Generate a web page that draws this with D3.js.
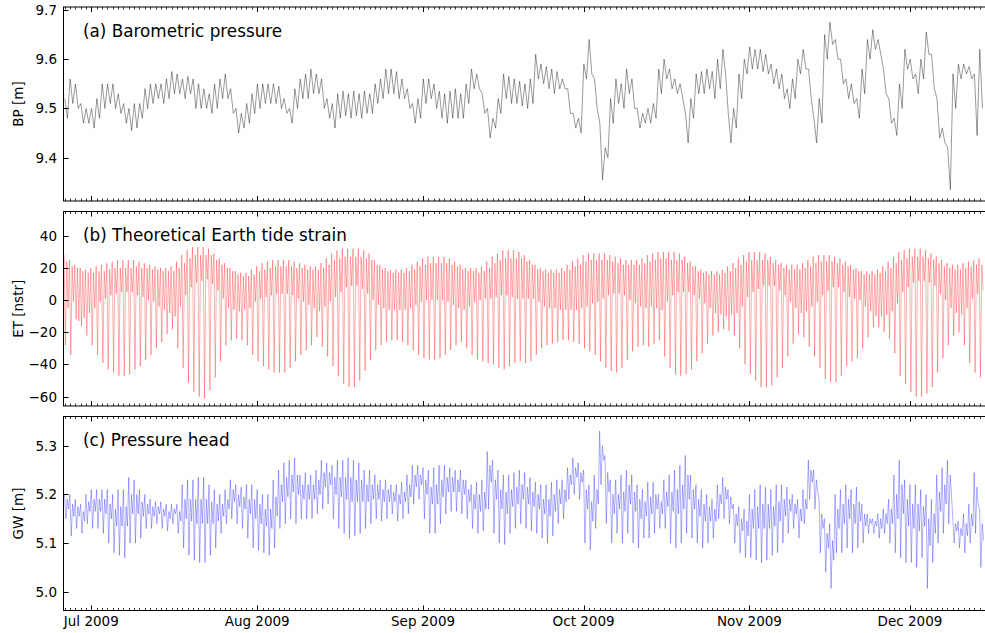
<!DOCTYPE html>
<html><head><meta charset="utf-8">
<script src="https://cdn.jsdelivr.net/npm/d3@7/dist/d3.min.js"></script>
<style>
html,body{margin:0;padding:0;background:#fff;}
svg{display:block;font-family:"DejaVu Sans",sans-serif;}
</style>
</head><body>
<svg id="chart" width="985" height="633"></svg>
<script>
// ---------------- DATA ----------------
// one entry per day, starting 2009-06-25 22:00
const startTime = new Date(2009, 5, 25, 22, 0);
const viewStart = new Date(2009, 5, 25, 19, 20);
const viewEnd = new Date(2009, 11, 15, 0, 25);

const monthLabels = ["Jul 2009", "Aug 2009", "Sep 2009", "Oct 2009", "Nov 2009", "Dec 2009"];
const bpTicks = [9.4, 9.5, 9.6, 9.7];
const etTicks = [-60, -40, -20, 0, 20, 40];
const gwTicks = [5.0, 5.1, 5.2, 5.3];

// (a) Barometric pressure [m] : daily high and low
const bpHigh = [
9.52,9.56,9.55,9.51,9.50,9.50,9.52,9.55,9.55,9.55,
9.53,9.51,9.50,9.51,9.51,9.54,9.55,9.55,9.55,9.56,
9.575,9.57,9.56,9.565,9.56,9.55,9.54,9.53,9.55,9.56,
9.57,9.54,9.50,9.49,9.51,9.53,9.55,9.55,9.55,9.55,
9.545,9.52,9.50,9.54,9.56,9.57,9.58,9.57,9.56,9.52,
9.51,9.53,9.535,9.53,9.535,9.53,9.535,9.53,9.55,9.56,
9.58,9.58,9.575,9.56,9.54,9.51,9.52,9.56,9.56,9.55,
9.535,9.53,9.535,9.54,9.53,9.55,9.58,9.57,9.53,9.50,
9.48,9.52,9.57,9.565,9.56,9.555,9.55,9.56,9.61,9.59,
9.585,9.58,9.575,9.56,9.54,9.49,9.48,9.59,9.64,9.56,
9.47,9.42,9.52,9.56,9.55,9.58,9.56,9.50,9.49,9.50,
9.51,9.58,9.60,9.58,9.56,9.55,9.49,9.52,9.57,9.575,
9.58,9.575,9.60,9.62,9.49,9.50,9.57,9.60,9.625,9.62,
9.62,9.61,9.59,9.58,9.57,9.54,9.56,9.60,9.62,9.58,
9.48,9.52,9.65,9.675,9.64,9.60,9.56,9.55,9.52,9.58,
9.64,9.66,9.64,9.58,9.52,9.48,9.55,9.62,9.60,9.57,
9.60,9.655,9.61,9.52,9.46,9.42,9.57,9.59,9.59,9.585,
9.57,9.62];
const bpLow = [
9.48,9.51,9.50,9.47,9.47,9.46,9.48,9.50,9.51,9.50,
9.49,9.47,9.455,9.46,9.48,9.50,9.51,9.52,9.51,9.52,
9.53,9.53,9.52,9.53,9.50,9.50,9.50,9.49,9.50,9.52,
9.52,9.49,9.45,9.46,9.47,9.49,9.50,9.51,9.51,9.51,
9.50,9.49,9.47,9.50,9.52,9.52,9.53,9.53,9.50,9.48,
9.46,9.48,9.485,9.48,9.485,9.48,9.49,9.49,9.51,9.52,
9.53,9.53,9.52,9.52,9.50,9.47,9.48,9.51,9.52,9.50,
9.48,9.47,9.48,9.48,9.48,9.51,9.54,9.54,9.49,9.44,
9.46,9.49,9.52,9.51,9.51,9.505,9.50,9.51,9.56,9.55,
9.54,9.53,9.54,9.54,9.49,9.46,9.45,9.56,9.57,9.50,
9.355,9.40,9.47,9.51,9.50,9.53,9.50,9.46,9.47,9.47,
9.48,9.53,9.56,9.54,9.53,9.52,9.43,9.48,9.53,9.53,
9.54,9.52,9.54,9.57,9.43,9.46,9.52,9.57,9.58,9.58,
9.575,9.57,9.55,9.54,9.52,9.50,9.52,9.57,9.58,9.52,
9.43,9.47,9.60,9.63,9.60,9.55,9.52,9.51,9.48,9.53,
9.60,9.62,9.61,9.53,9.47,9.445,9.50,9.58,9.56,9.53,
9.56,9.61,9.54,9.44,9.43,9.335,9.50,9.56,9.57,9.56,
9.445,9.50];

// (b) Theoretical Earth tide strain [nstr] : major high, major low, minor high, minor low
const etHigh1 = [
28,25,22,20,19,20,21,22,23,24,25,25,25,25,24,23,22,21,20,20,
21,24,28,31,33,33,33,32,29,26,23,20,18,17,17,19,21,23,24,25,
25,25,25,24,23,22,21,21,23,26,29,31,32,32,32,32,31,29,25,22,
20,19,19,19,20,22,24,26,27,27,27,27,26,24,22,20,20,20,21,24,
27,29,31,31,31,30,28,25,22,20,19,19,19,20,22,24,26,28,29,29,
29,29,28,27,26,25,25,25,26,28,29,30,30,30,30,29,27,24,21,19,
18,18,18,19,21,23,26,28,30,30,30,29,27,25,23,22,22,22,23,25,
27,28,28,28,27,26,24,22,20,18,18,18,19,21,24,27,30,31,32,32,
32,31,29,27,25,23,22,22,23,24,25,26];
const etLow1 = [
-28,-34,-12,-16,-22,-28,-34,-39,-43,-45,-47,-47,-46,-43,-41,-37,-34,-30,-26,-21,
-18,-30,-42,-51,-57,-60,-61,-56,-48,-38,-28,-25,-24,-25,-28,-34,-38,-41,-43,-45,
-45,-45,-42,-38,-34,-31,-28,-23,-29,-35,-41,-47,-52,-54,-54,-50,-44,-37,-31,-28,
-26,-25,-25,-26,-28,-31,-34,-36,-37,-37,-36,-34,-31,-28,-26,-30,-34,-37,-38,-39,
-40,-42,-43,-41,-39,-38,-39,-38,-34,-30,-28,-27,-26,-25,-25,-26,-27,-30,-32,-34,
-38,-42,-44,-45,-42,-37,-32,-29,-28,-29,-27,-25,-35,-42,-46,-47,-46,-43,-38,-33,
-27,-22,-20,-18,-19,-22,-30,-40,-46,-50,-54,-54,-53,-48,-42,-35,-27,-21,-23,-29,
-35,-42,-49,-51,-51,-47,-41,-38,-36,-30,-23,-17,-17,-20,-24,-33,-47,-52,-57,-60,
-60,-58,-54,-45,-36,-28,-22,-20,-28,-39,-45,-48];
const etHigh2 = [
24,21,20,18,17,17,18,18,19,20,20,20,20,21,20,20,19,19,18,18,
18,20,23,26,28,28,28,28,25,22,20,18,16,15,15,16,18,19,20,21,
21,21,21,20,20,19,19,19,20,22,25,26,27,27,27,27,26,25,22,19,
18,17,17,17,18,19,21,22,23,23,23,23,22,21,19,18,18,17,18,20,
23,25,26,26,26,26,24,22,19,18,17,17,17,18,19,21,22,24,25,25,
25,25,24,23,22,22,22,22,23,24,25,26,26,25,25,25,23,21,18,17,
16,16,16,17,18,20,22,24,25,25,25,25,23,22,20,19,19,19,20,21,
23,24,24,24,23,22,21,19,18,16,16,16,17,18,20,23,25,26,27,27,
27,26,25,23,21,20,19,19,20,21,22,22];
const etLow2 = [
-5,-1,-13,-11,-8,-5,-1,1,3,4,5,5,5,3,2,0,-1,-4,-6,-8,
-10,-4,3,8,11,12,13,10,6,1,-5,-6,-7,-6,-5,-1,1,2,3,4,
4,4,3,1,-1,-3,-5,-7,-4,-1,2,5,8,9,9,7,4,0,-3,-5,
-6,-6,-6,-6,-5,-3,-1,0,0,0,0,-1,-3,-5,-6,-4,-1,0,1,1,
2,3,3,2,1,1,1,1,-1,-4,-5,-5,-6,-6,-6,-6,-5,-4,-2,-1,
1,3,4,4,3,0,-2,-4,-5,-4,-5,-6,-1,3,5,5,5,3,1,-2,
-5,-8,-9,-10,-9,-8,-4,2,5,7,9,9,9,6,3,-1,-5,-8,-7,-4,
-1,3,6,8,8,5,2,1,0,-4,-7,-10,-10,-9,-7,-2,5,8,11,12,
12,11,9,4,0,-5,-8,-9,-5,1,4,6];

// (c) Pressure head [m] : major high, major low, minor high, minor low
const gwHigh1 = [
5.20,5.20,5.19,5.18,5.20,5.21,5.21,5.21,5.21,5.20,
5.21,5.21,5.235,5.23,5.21,5.20,5.19,5.185,5.185,5.18,
5.18,5.18,5.22,5.23,5.23,5.235,5.235,5.22,5.21,5.20,
5.21,5.23,5.22,5.215,5.22,5.22,5.21,5.20,5.20,5.23,
5.25,5.265,5.27,5.275,5.24,5.245,5.24,5.25,5.27,5.265,
5.26,5.27,5.27,5.275,5.27,5.265,5.25,5.25,5.24,5.23,
5.23,5.22,5.22,5.225,5.24,5.26,5.26,5.255,5.25,5.255,
5.26,5.26,5.255,5.25,5.25,5.23,5.22,5.225,5.23,5.288,
5.27,5.25,5.24,5.24,5.245,5.25,5.245,5.235,5.225,5.22,
5.22,5.225,5.23,5.23,5.255,5.275,5.265,5.25,5.22,5.24,
5.33,5.28,5.23,5.23,5.24,5.25,5.24,5.22,5.21,5.225,
5.225,5.20,5.23,5.24,5.25,5.26,5.28,5.24,5.22,5.21,
5.20,5.19,5.22,5.235,5.21,5.18,5.175,5.17,5.20,5.21,
5.22,5.215,5.21,5.22,5.22,5.215,5.20,5.19,5.21,5.27,
5.25,5.19,5.15,5.14,5.20,5.21,5.22,5.21,5.215,5.18,
5.16,5.15,5.16,5.17,5.19,5.24,5.27,5.23,5.22,5.22,
5.21,5.20,5.19,5.24,5.255,5.27,5.15,5.145,5.16,5.18,
5.245,5.17];
const gwLow1 = [
5.15,5.115,5.13,5.12,5.14,5.13,5.13,5.12,5.10,5.08,
5.075,5.07,5.10,5.10,5.11,5.13,5.13,5.14,5.13,5.125,
5.14,5.12,5.09,5.075,5.065,5.06,5.06,5.075,5.09,5.12,
5.14,5.15,5.14,5.13,5.11,5.09,5.085,5.08,5.075,5.09,
5.13,5.14,5.15,5.14,5.15,5.15,5.15,5.16,5.17,5.18,
5.15,5.13,5.12,5.11,5.115,5.12,5.13,5.14,5.15,5.145,
5.15,5.16,5.145,5.15,5.16,5.18,5.19,5.15,5.12,5.12,
5.14,5.16,5.165,5.165,5.16,5.15,5.13,5.12,5.125,5.17,
5.12,5.10,5.097,5.12,5.13,5.14,5.13,5.125,5.12,5.11,
5.10,5.115,5.14,5.15,5.19,5.20,5.19,5.10,5.086,5.13,
5.22,5.14,5.10,5.12,5.10,5.12,5.10,5.09,5.11,5.11,
5.12,5.13,5.13,5.10,5.09,5.10,5.12,5.11,5.10,5.09,
5.10,5.11,5.15,5.15,5.14,5.10,5.08,5.07,5.07,5.065,
5.06,5.065,5.075,5.08,5.10,5.12,5.13,5.11,5.14,5.19,
5.17,5.08,5.04,5.007,5.08,5.08,5.09,5.08,5.09,5.10,
5.12,5.12,5.11,5.12,5.10,5.08,5.07,5.06,5.06,5.05,
5.07,5.007,5.06,5.10,5.12,5.14,5.10,5.09,5.08,5.10,
5.12,5.05];
const gwHigh2 = [
5.19,5.18,5.175,5.165,5.185,5.19,5.19,5.19,5.18,5.17,
5.175,5.175,5.20,5.20,5.185,5.18,5.175,5.175,5.17,5.165,
5.17,5.165,5.19,5.19,5.19,5.19,5.19,5.185,5.18,5.18,
5.19,5.21,5.20,5.195,5.19,5.19,5.18,5.17,5.17,5.195,
5.22,5.235,5.24,5.24,5.22,5.22,5.22,5.23,5.245,5.245,
5.235,5.235,5.235,5.235,5.23,5.23,5.22,5.22,5.22,5.21,
5.21,5.205,5.20,5.205,5.22,5.24,5.24,5.23,5.215,5.22,
5.23,5.235,5.235,5.23,5.23,5.21,5.20,5.20,5.205,5.26,
5.23,5.21,5.205,5.21,5.215,5.22,5.215,5.205,5.20,5.19,
5.19,5.20,5.21,5.21,5.24,5.255,5.245,5.21,5.185,5.21,
5.30,5.245,5.20,5.20,5.205,5.22,5.205,5.19,5.185,5.195,
5.20,5.185,5.205,5.205,5.21,5.22,5.24,5.21,5.19,5.18,
5.175,5.17,5.20,5.215,5.195,5.16,5.15,5.145,5.17,5.175,
5.18,5.18,5.175,5.185,5.19,5.19,5.18,5.17,5.19,5.25,
5.23,5.16,5.12,5.105,5.17,5.18,5.19,5.18,5.185,5.16,
5.15,5.145,5.15,5.16,5.17,5.20,5.22,5.19,5.18,5.18,
5.175,5.15,5.16,5.205,5.22,5.24,5.14,5.13,5.14,5.16,
5.215,5.14];
const gwLow2 = [
5.17,5.155,5.155,5.145,5.165,5.165,5.165,5.16,5.15,5.135,
5.135,5.135,5.16,5.16,5.155,5.16,5.155,5.16,5.155,5.15,
5.16,5.145,5.15,5.145,5.14,5.14,5.14,5.14,5.145,5.155,
5.17,5.185,5.175,5.17,5.16,5.15,5.14,5.135,5.13,5.155,
5.185,5.195,5.205,5.20,5.19,5.19,5.19,5.20,5.215,5.22,
5.20,5.195,5.19,5.185,5.185,5.185,5.185,5.19,5.19,5.185,
5.185,5.185,5.18,5.185,5.195,5.215,5.22,5.20,5.18,5.18,
5.195,5.205,5.205,5.205,5.20,5.185,5.17,5.165,5.17,5.225,
5.19,5.17,5.16,5.175,5.18,5.19,5.18,5.175,5.17,5.16,
5.155,5.165,5.18,5.185,5.22,5.235,5.225,5.17,5.145,5.18,
5.27,5.205,5.16,5.17,5.165,5.18,5.165,5.15,5.155,5.16,
5.17,5.16,5.175,5.165,5.16,5.17,5.19,5.17,5.155,5.145,
5.145,5.145,5.18,5.19,5.17,5.135,5.125,5.115,5.13,5.13,
5.13,5.13,5.135,5.145,5.155,5.165,5.16,5.145,5.17,5.225,
5.205,5.13,5.09,5.065,5.13,5.14,5.15,5.14,5.145,5.135,
5.14,5.135,5.13,5.14,5.14,5.15,5.16,5.135,5.13,5.125,
5.135,5.095,5.12,5.165,5.18,5.20,5.125,5.115,5.115,5.135,
5.18,5.105];

// ---------------- DRAWING ----------------
function buildSeries(arrays, hourOffsets) {
  const out = [];
  const n = arrays[0].length;
  for (let i = 0; i < n; i++) {
    const day = d3.timeDay.offset(startTime, i);
    arrays.forEach((arr, k) => {
      out.push({t: d3.timeMinute.offset(day, hourOffsets[k] * 60), v: arr[i]});
    });
  }
  return out;
}

const bpSeries = buildSeries([bpHigh, bpLow], [3, 15]);
const etSeries = buildSeries([etHigh1, etLow1, etHigh2, etLow2], [0, 6, 12, 18]);
const gwSeries = buildSeries([gwHigh1, gwLow1, gwHigh2, gwLow2], [2, 8, 14, 20]);

const svg = d3.select("#chart");
const left = 63.5, right = 986;
const x = d3.scaleTime().domain([viewStart, viewEnd]).range([left, 985]);

const panels = [
  {top: 7, bottom: 201, domain: [9.312, 9.706], ticks: bpTicks, fmt: d3.format(".1f"),
   data: bpSeries, color: "#000000", width: 0.5, opacity: 0.8, label: "BP [m]", title: "(a) Barometric pressure"},
  {top: 211.5, bottom: 406, domain: [-65.8, 55.1], ticks: etTicks, fmt: d3.format("d"),
   data: etSeries, color: "#ff0000", width: 0.45, opacity: 0.7, label: "ET [nstr]", title: "(b) Theoretical Earth tide strain"},
  {top: 416.5, bottom: 610.5, domain: [4.9616, 5.360], ticks: gwTicks, fmt: d3.format(".1f"),
   data: gwSeries, color: "#0000ff", width: 0.45, opacity: 0.7, label: "GW [m]", title: "(c) Pressure head"}
];

const months = d3.timeMonth.range(d3.timeMonth.ceil(viewStart), viewEnd);
const days = d3.timeDay.range(d3.timeDay.ceil(viewStart), viewEnd);
const tickFont = 13.5;

panels.forEach((p, pi) => {
  const y = d3.scaleLinear().domain(p.domain).range([p.bottom, p.top]);
  const g = svg.append("g");
  const clipId = "clip" + pi;
  svg.append("clipPath").attr("id", clipId).append("rect")
    .attr("x", left).attr("y", p.top).attr("width", right - left).attr("height", p.bottom - p.top);

  g.append("path").datum(p.data)
    .attr("clip-path", `url(#${clipId})`)
    .attr("fill", "none").attr("stroke", p.color).attr("stroke-width", p.width)
    .attr("stroke-opacity", p.opacity)
    .attr("stroke-linejoin", "round")
    .attr("d", d3.line().x(d => x(d.t)).y(d => y(d.v)));

  // frame
  g.append("rect").attr("x", left).attr("y", p.top).attr("width", right - left).attr("height", p.bottom - p.top)
    .attr("fill", "none").attr("stroke", "#000").attr("stroke-width", 1);

  // minor (daily) ticks
  const isMonth = d => d.getDate() === 1;
  days.filter(d => !isMonth(d)).forEach(d => {
    const xx = Math.round(x(d)) + 0.5;
    g.append("line").attr("x1", xx).attr("x2", xx).attr("y1", p.top).attr("y2", p.top + 2.5)
      .attr("stroke", "#000").attr("stroke-width", 0.8);
    g.append("line").attr("x1", xx).attr("x2", xx).attr("y1", p.bottom).attr("y2", p.bottom - 2.5)
      .attr("stroke", "#000").attr("stroke-width", 0.8);
  });
  // major (monthly) ticks
  months.forEach(d => {
    const xx = Math.round(x(d)) + 0.5;
    g.append("line").attr("x1", xx).attr("x2", xx).attr("y1", p.top).attr("y2", p.top + 5)
      .attr("stroke", "#000").attr("stroke-width", 1);
    g.append("line").attr("x1", xx).attr("x2", xx).attr("y1", p.bottom).attr("y2", p.bottom - 5)
      .attr("stroke", "#000").attr("stroke-width", 1);
  });

  // y ticks
  p.ticks.forEach(v => {
    const yy = Math.round(y(v)) + 0.5;
    g.append("line").attr("x1", left).attr("x2", left + 5).attr("y1", yy).attr("y2", yy)
      .attr("stroke", "#000").attr("stroke-width", 1);
    g.append("text").attr("x", 57).attr("y", yy).attr("dy", "0.36em")
      .attr("text-anchor", "end").attr("font-size", tickFont).attr("fill", "#000")
      .text(p.fmt(v));
  });

  // title
  g.append("text").attr("x", 83).attr("y", p.top + 29.5).attr("font-size", 16.8).attr("fill", "#000")
    .text(p.title);

  // y label
  const cy = (p.top + p.bottom) / 2;
  g.append("text").attr("transform", `translate(22.5,${cy}) rotate(-90)`)
    .attr("text-anchor", "middle").attr("font-size", tickFont).attr("fill", "#000")
    .text(p.label);

  if (pi === panels.length - 1) {
    months.forEach((d, k) => {
      g.append("text").attr("x", x(d)).attr("y", 626).attr("text-anchor", "middle")
        .attr("font-size", tickFont).attr("fill", "#000").text(monthLabels[k]);
    });
  }
});
</script>
</body></html>
